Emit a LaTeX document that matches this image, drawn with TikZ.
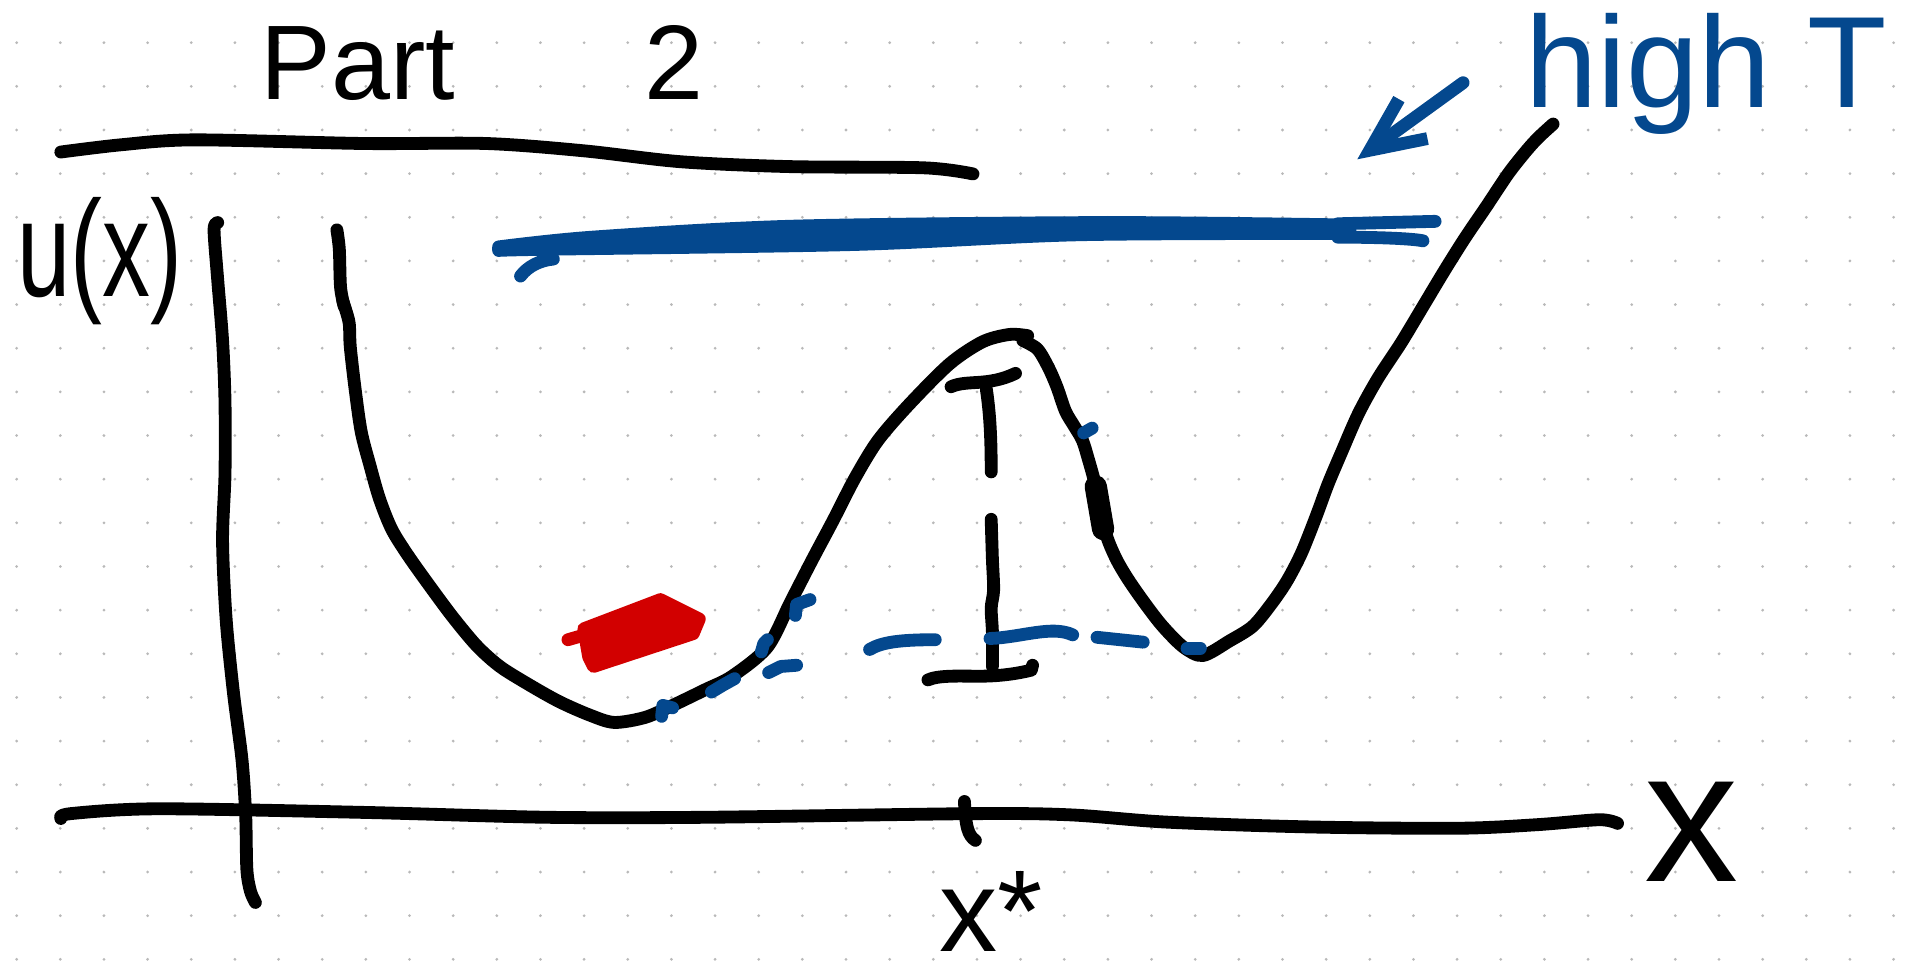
\documentclass[tikz,border=0pt]{standalone}
\usepackage{fontspec}
\newfontfamily\handfont{Liberation Sans}
\usetikzlibrary{arrows.meta}
\definecolor{inkblue}{RGB}{4, 72, 142}
\definecolor{inkred}{RGB}{210, 0, 0}
\definecolor{dotgray}{RGB}{185, 185, 185}
\newcommand{\handsize}[1]{\handfont\fontsize{#1}{#1}\selectfont}

\tikzset{
  ink/.style={line width=7.5pt, line cap=round, line join=round},
  blueink/.style={ink, draw=inkblue},
  handtext/.style={inner sep=0pt, anchor=base west},
}

\begin{document}
\begin{tikzpicture}[x=0.025cm, y=-0.025cm]
    \useasboundingbox (0,0) rectangle (1568,803);
    \clip (0,0) rectangle (1568,803);
    % dotted paper
    \foreach \i in {0,...,43}
        \foreach \j in {0,...,21}
            \fill [dotgray] (13.7+35.89*\i, 35.1+35.89*\j) circle (0.9pt);

    % title and underline
    \node [handtext, font=\handsize{62}] (title) at (214,82) {Part\hspace{3.9cm}2};
    \draw [ink] plot [smooth] coordinates {(50,125) (100,119) (160,115) (300,118) (400,118) (480,124) (560,133) (650,137) (760,138) (800,143)};

    % axes
    \draw [ink] plot [smooth] coordinates {(179,183) (176,189) (179,230) (183,280) (185,330) (185,390) (183,445) (186,510) (192,570) (199,625) (202,670) (203,715) (206,733) (210,742)};
    \draw [ink] plot [smooth] coordinates {(50,673) (58,669) (130,665) (300,668) (450,672) (580,672) (800,669) (880,670) (960,676) (1080,680) (1200,681) (1265,678) (1315,674) (1330,677)};
    \draw [ink] (793,659) .. controls (794,680) and (796,687) .. (802,691);

    \node [handtext, font=\handsize{80}] (ulabel) at (14,244) {\scalebox{0.7}[1]{u(x)}};
    \node [handtext, font=\handsize{110}] (xlabel) at (1352,725) {x};
    \node [handtext, font=\handsize{68}] (xstar) at (772,782) {x*};

    % high T level
    \filldraw [blueink, fill=inkblue] plot [smooth] coordinates {(410,203) (487,195) (651,186) (909,183) (1110,185)} -- plot [smooth] coordinates {(1110,192) (888,193) (703,201) (446,205) (410,206)} -- cycle;
    \draw [blueink] (1100,184) -- (1180,182);
    \draw [blueink] (1100,195) .. controls (1130,195) and (1160,196) .. (1170,198);
    \draw [blueink] (428,227) .. controls (434,219) and (444,214) .. (455,213);

    \node [handtext, text=inkblue, font=\handsize{76}] (hight) at (1254,88) {high T};
    \coordinate (arrowtail) at (1203,68);
    \coordinate (arrowtip) at (1116,131);
    \draw [blueink, -{Straight Barb[length=1.1cm, width=1cm]}] (arrowtail) -- (arrowtip);

    % potential
    \draw [ink] plot [smooth] coordinates {(277,189) (279,205) (280,236) (283,252)};
    \draw [ink] plot [smooth] coordinates {(282,248) (287,265) (288,285) (292,320) (297,355) (304,382) (312,410) (322,435) (335,456) (352,480) (372,507) (392,531) (411,548) (435,563) (460,577) (485,588) (505,594) (530,590) (551,581) (580,567) (602,556) (631,532) (650,495) (668,460) (685,428) (703,393) (722,362) (748,332) (781,299) (808,281) (830,275) (845,276)};
    \draw [ink] plot [smooth] coordinates {(841,280) (853,287) (862,302) (869,318) (876,338) (883,350) (890,362) (895,378) (900,396) (905,418) (910,441) (918,460) (928,477) (942,497) (956,515) (973,532) (989,539) (1011,527) (1030,515) (1045,497) (1058,478) (1070,455) (1082,425) (1092,398) (1103,372) (1117,340) (1133,311) (1152,282) (1170,252) (1188,222) (1205,195) (1222,170) (1240,143) (1255,124) (1265,113) (1277,102)};
    \draw [ink, line width=13pt] (901,400) -- (907,435);

    % barrier height
    \draw [ink] (782,318) .. controls (795,312) and (812,318) .. (835,307);
    \draw [ink] (811,320) .. controls (814,340) and (815,360) .. (815,388);
    \draw [ink] plot [smooth] coordinates {(815,427) (816,460) (817,485) (815,500) (816,520) (816,548)};
    \draw [ink] (763,559) .. controls (772,555) and (790,556) .. (805,556) .. controls (825,556) and (840,553) .. (848,551) -- (849,547);

    % low T level
    \draw [blueink] (544,589) -- (545,580) -- (553,582);
    \draw [blueink] (585,569) -- (595,563) -- (604,558);
    \draw [blueink] (626,536) -- (628,529) -- (631,526);
    \draw [blueink] (654,506) -- (655,497) -- (666,493);
    \draw [blueink] (632,553) -- (642,548) -- (655,547);
    \draw [blueink] (715,534) .. controls (725,528) and (740,526) .. (769,526);
    \draw [blueink] (814,525) .. controls (840,524) and (865,514) .. (882,522);
    \draw [blueink] (902,524) -- (940,528);
    \draw [blueink] (976,533) -- (987,533);
    \draw [blueink] (891,356) -- (898,352);

    % particle
    \filldraw [ink, draw=inkred, fill=inkred] (480,517) -- (543,493) -- (575,509) -- (570,521) -- (488,548) -- (484,540) -- cycle;
    \draw [ink, draw=inkred] (467,526) -- (505,515);
\end{tikzpicture}
\end{document}
